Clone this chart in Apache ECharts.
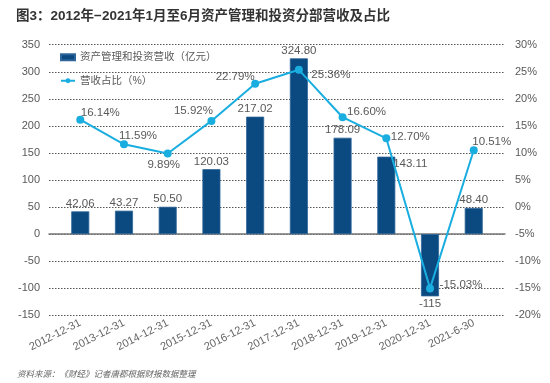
<!DOCTYPE html>
<html><head><meta charset="utf-8">
<script src="https://cdn.jsdelivr.net/npm/echarts@6/dist/echarts.min.js"></script>
<style>html,body{margin:0;padding:0;background:#fff}#c{width:550px;height:383px}</style>
</head><body><div id="c"></div>
<script>
const categories = ['2012-12-31','2013-12-31','2014-12-31','2015-12-31','2016-12-31','2017-12-31','2018-12-31','2019-12-31','2020-12-31','2021-6-30'];
const revenue = [42.06, 43.27, 50.50, 120.03, 217.02, 324.80, 178.09, 143.11, -115, 48.40];
const share = [16.14, 11.59, 9.89, 15.92, 22.79, 25.36, 16.60, 12.70, -15.03, 10.51];
const revenueLabels = ['42.06','43.27','50.50','120.03','217.02','324.80','178.09','143.11','-115','48.40'];
const shareLabels = ['16.14%','11.59%','9.89%','15.92%','22.79%','25.36%','16.60%','12.70%','-15.03%','10.51%'];
const leftTicks = {min: -150, max: 350, interval: 50};
const rightTicks = {min: -20, max: 30, interval: 5};

// label placement styles (not data)
const shareOffsets = [[20,-7],[14,-9],[-4,11],[-18,-10],[-20,-7],[32,5],[24,-5],[24,-1],[31,-4],[18,-8]];

const FONT = 'Liberation Sans, Arial, Noto Sans CJK SC, sans-serif';
const TXT = '#595959';
const BAR = '#0b4a80';
const LINE = '#1aaee0';

const chart = echarts.init(document.getElementById('c'));
const gTop = 44.7, gBottom = 383 - 315.3;
chart.setOption({
  animation: false,
  textStyle: {fontFamily: FONT},
  title: [
    {text: '图3：2012年−2021年1月至6月资产管理和投资分部营收及占比', left: 11, top: 5,
     textStyle: {fontSize: 13.5, fontWeight: 'bold', color: '#333', fontFamily: FONT}},
    {text: '资料来源：《财经》记者唐郡根据财报数据整理', left: 12, top: 365,
     textStyle: {fontSize: 8.5, fontWeight: 'normal', fontStyle: 'italic', color: '#666', fontFamily: FONT}}
  ],
  legend: {
    orient: 'vertical', left: 55, top: 47, itemGap: 13,
    itemWidth: 14, itemHeight: 6,
    textStyle: {fontSize: 10.5, color: TXT, fontFamily: FONT},
    data: [
      {name: '资产管理和投资营收（亿元）', icon: 'rect'},
      {name: '营收占比（%）'}
    ]
  },
  grid: [
    {left: 49, right: 45, top: gTop, bottom: gBottom},
    {left: 58.4, right: 54.4, top: gTop, bottom: gBottom}
  ],
  xAxis: [
    {gridIndex: 0, type: 'category', data: [''], axisLine: {lineStyle: {color: '#777', width: 1.5}},
     axisTick: {show: false}, axisLabel: {show: false}},
    {gridIndex: 1, type: 'category', data: categories, axisLine: {show: false, onZero: false},
     axisTick: {show: false},
     axisLabel: {rotate: 27, margin: 7, fontSize: 11, color: '#666', interval: 0}}
  ],
  yAxis: [
    {gridIndex: 0, type: 'value', ...leftTicks, position: 'left',
     axisLine: {show: false}, axisTick: {show: false},
     axisLabel: {fontSize: 11, color: TXT, margin: 9},
     splitLine: {show: true, lineStyle: {type: [1.5, 1.5], color: '#555', width: 1}}},
    {gridIndex: 0, type: 'value', ...rightTicks, position: 'right',
     axisLine: {show: false}, axisTick: {show: false},
     axisLabel: {fontSize: 11, color: TXT, margin: 10, formatter: '{value}%'},
     splitLine: {show: false}},
    {gridIndex: 1, type: 'value', ...leftTicks, show: false, splitLine: {show: false}},
    {gridIndex: 1, type: 'value', ...rightTicks, show: false, splitLine: {show: false}}
  ],
  series: [
    {
      name: '资产管理和投资营收（亿元）', type: 'bar', xAxisIndex: 1, yAxisIndex: 2,
      barWidth: 18,
      itemStyle: {color: BAR, borderColor: '#2e6699', borderWidth: 0.8},
      data: revenue.map((v, i) => {
        const lab = {show: true, formatter: revenueLabels[i]};
        if (i === 7) { lab.position = 'top'; lab.offset = [24, 15]; }
        if (i === 8) { lab.position = 'bottom'; }
        return {value: v, label: lab};
      }),
      label: {show: true, position: 'top', distance: 2, fontSize: 11.5, color: TXT}
    },
    {
      name: '营收占比（%）', type: 'line', xAxisIndex: 1, yAxisIndex: 3,
      symbol: 'circle', symbolSize: 8,
      lineStyle: {color: LINE, width: 2},
      itemStyle: {color: LINE},
      data: share.map((v, i) => ({value: v, label: {show: true, position: 'inside', offset: shareOffsets[i], formatter: shareLabels[i]}})),
      label: {show: true, fontSize: 11.5, color: TXT},
      z: 5
    }
  ]
});
</script></body></html>
